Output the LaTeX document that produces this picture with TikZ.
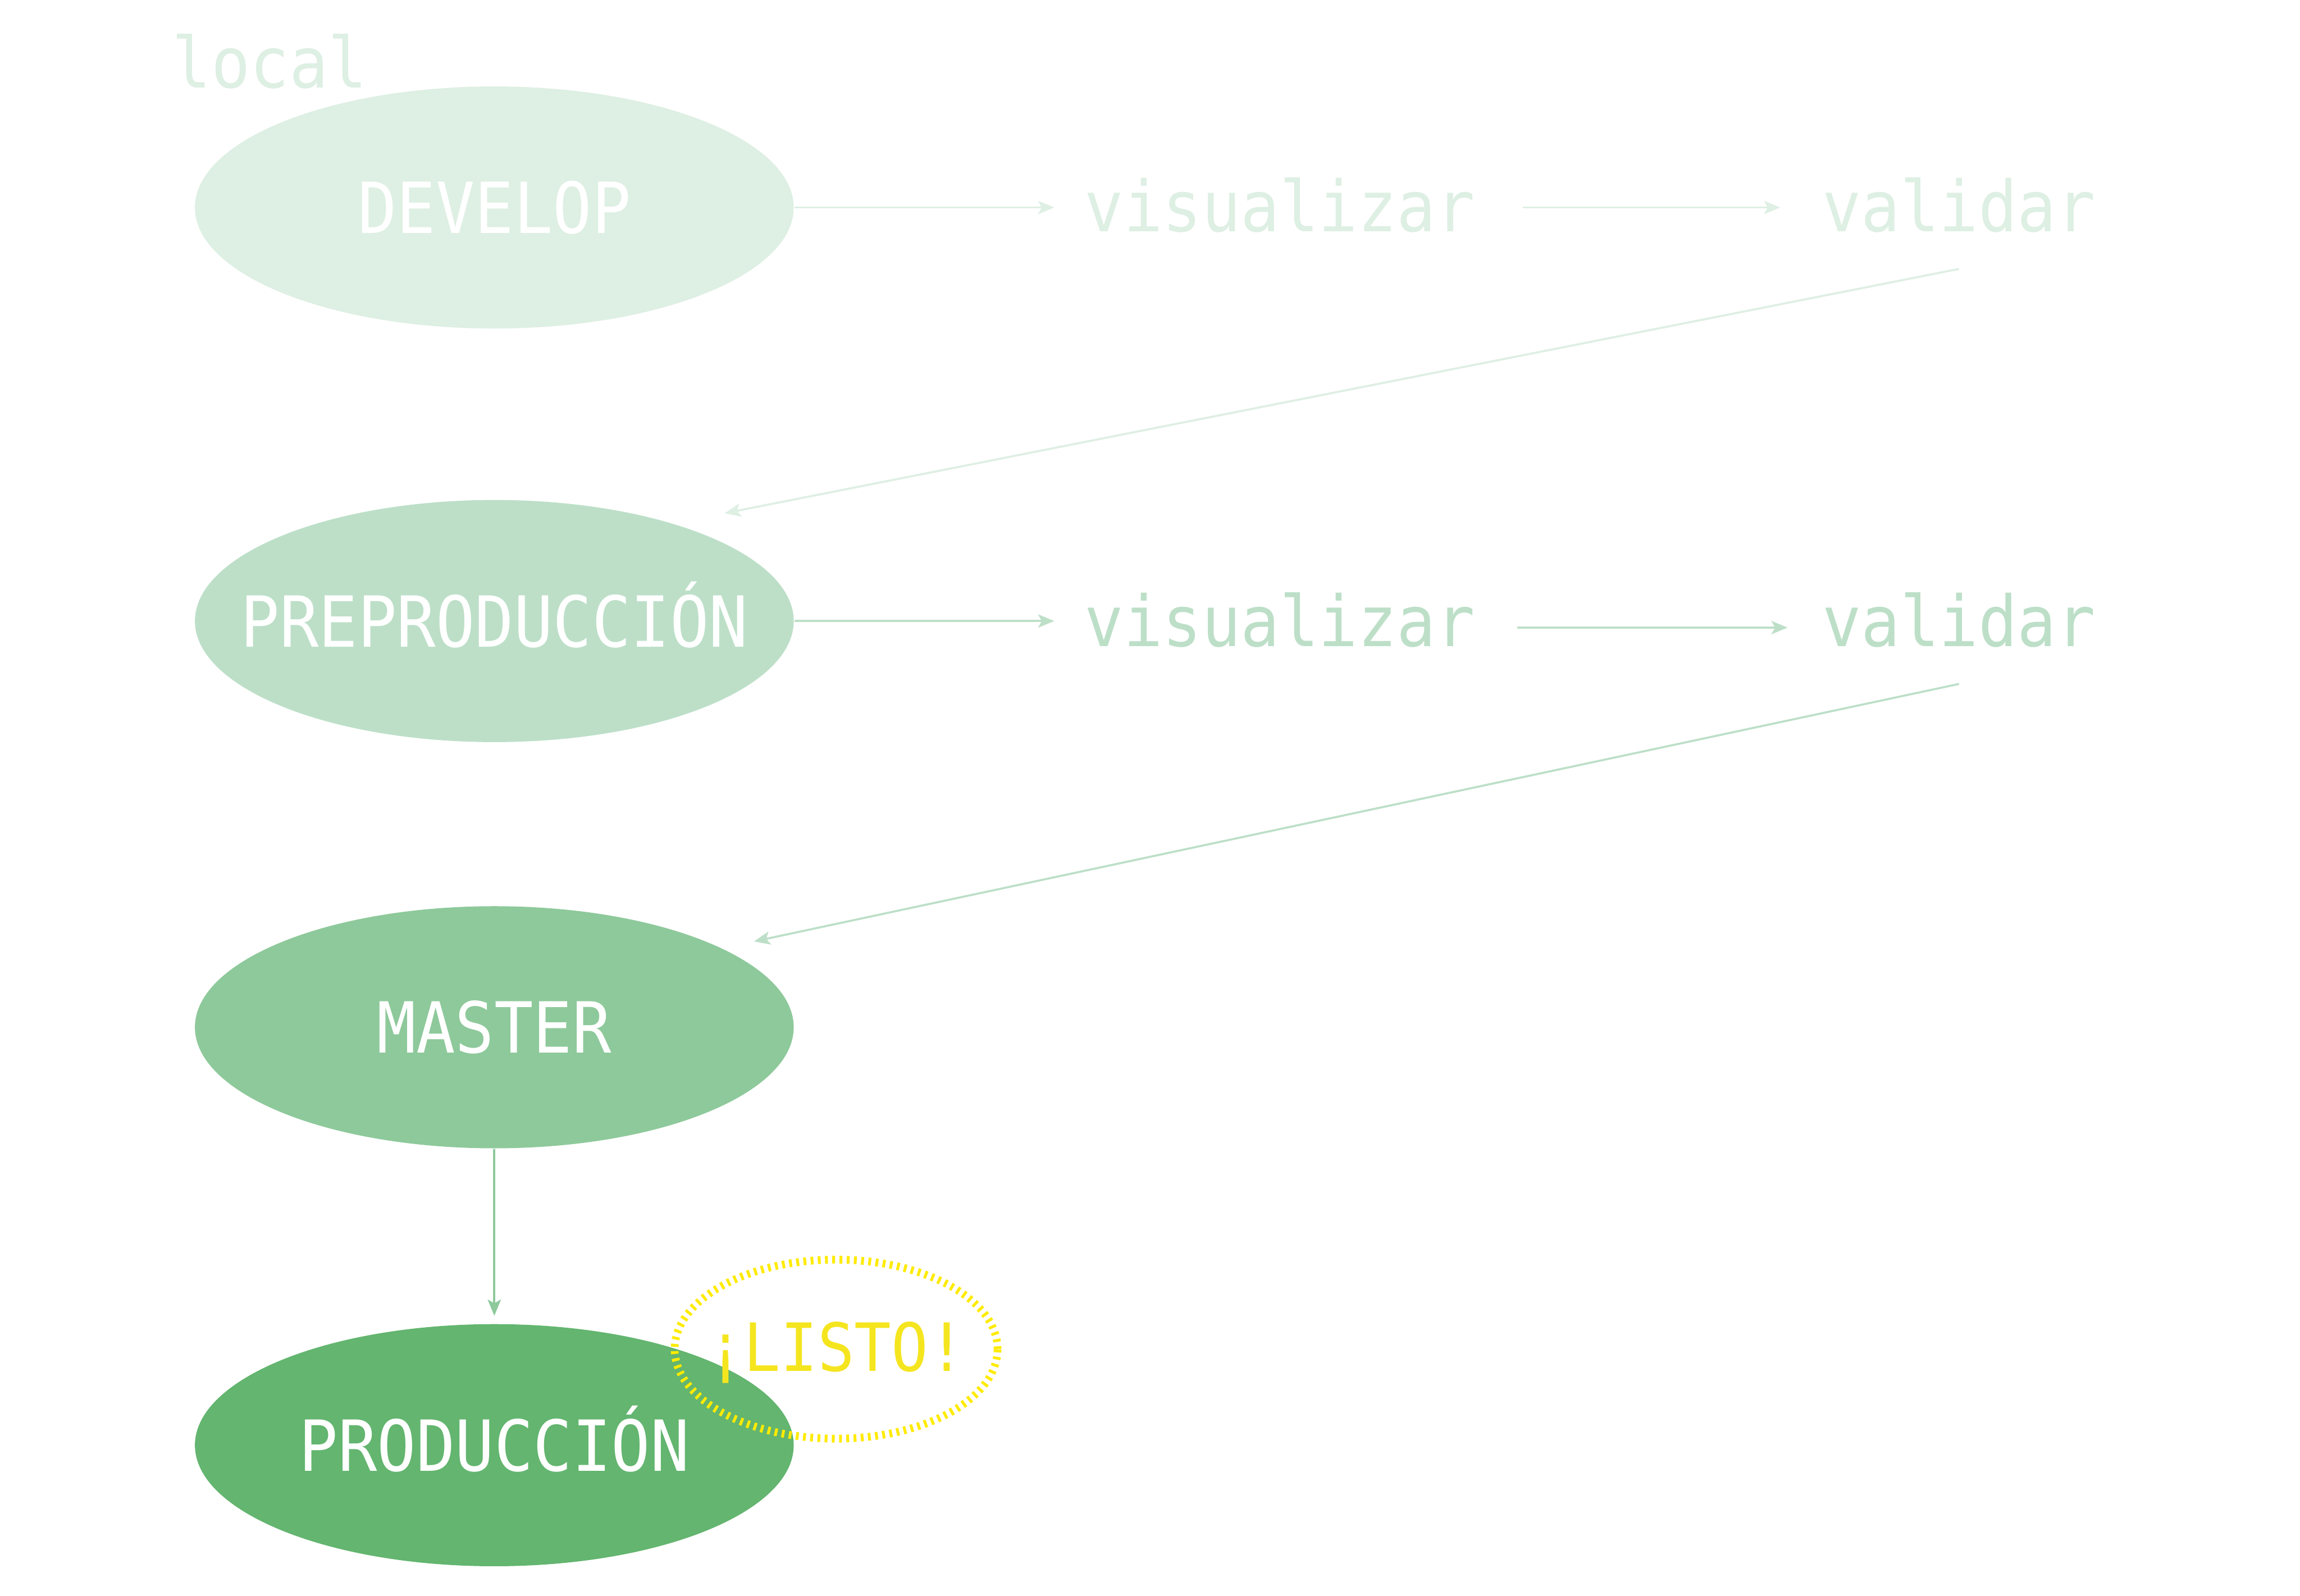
\documentclass[tikz,border=0pt]{standalone}
\usepackage{fontspec}
\usetikzlibrary{shapes.geometric,arrows.meta,calc}
\newfontfamily\monofnt[FakeStretch=0.92]{DejaVu Sans Mono}
\definecolor{cA}{HTML}{DEEFE3}
\definecolor{cB}{HTML}{BDDFC8}
\definecolor{cC}{HTML}{8EC99B}
\definecolor{cD}{HTML}{63B56F}
\definecolor{cY}{HTML}{FFEB00}
\definecolor{cYT}{HTML}{F5E51F}
\begin{document}
\begin{tikzpicture}[x=0.01cm,y=-0.01cm,
  stage/.style={ellipse, minimum width=4.08cm, minimum height=1.65cm, inner sep=0pt, fill=#1},
  lbl/.style={font=\monofnt\fontsize{13.66}{16}\selectfont, text=white, inner sep=0pt, text height=0.35cm, text depth=0pt},
  word/.style={font=\monofnt\fontsize{13.66}{16}\selectfont, text=#1, inner sep=0pt, anchor=base},
  conn/.style={draw=#1, line width=0.4pt, -{Stealth[length=0.11cm,width=0.09cm,inset=0.025cm]}},
]
\useasboundingbox (0,0) rectangle (1568,1088);

\node[word=cA] (loc) at (184,60) {local};

\node[stage=cA, label={[lbl]center:DEVELOP}] (dev) at (337,141.5) {};
\node[stage=cB, label={[lbl]center:PREPRODUCCIÓN}] (pre) at (337,423.5) {};
\node[stage=cC, label={[lbl]center:MASTER}] (mas) at (337,700.5) {};
\node[stage=cD, label={[lbl]center:PRODUCCIÓN}] (pro) at (337,985.5) {};

\node[word=cA] (vis1) at (872.5,158) {visualizar};
\node[word=cA] (val1) at (1335.5,158) {validar};
\node[word=cB] (vis2) at (872.5,441) {visualizar};
\node[word=cB] (val2) at (1335.5,441) {validar};

\draw[conn=cA, shorten >=0.2cm] (dev.east) -- (dev.east -| vis1.west);
\draw[conn=cA, shorten <=0.32cm, shorten >=0.28cm] (vis1.east |- dev.east) -- (val1.west |- dev.east);
\draw[conn=cB, shorten >=0.2cm] (pre.east) -- (pre.east -| vis2.west);
\draw[conn=cB, shorten <=0.28cm, shorten >=0.23cm] ([yshift=-0.05cm]vis2.east) -- ([yshift=-0.05cm]vis2.east -| val2.west);

\coordinate (d1) at (494,350);
\coordinate (d2) at (514,642);
\draw[conn=cA] ([yshift=-0.24cm]val1.south) -- (d1);
\draw[conn=cB] ([yshift=-0.24cm]val2.south) -- (d2);
\draw[conn=cC, shorten >=0.05cm] (mas.south) -- (pro.north);

\node[ellipse, minimum width=2.2cm, minimum height=1.22cm, inner sep=0pt,
  draw=cY, line width=1.5pt, dash pattern=on 0.55pt off 0.85pt,
  label={[font=\monofnt\fontsize{12.9}{15}\selectfont, text=cYT, inner sep=0pt, text height=0.33cm, text depth=0pt, yshift=0.015cm]center:¡LISTO!}] (listo) at (570,920) {};
\end{tikzpicture}
\end{document}
